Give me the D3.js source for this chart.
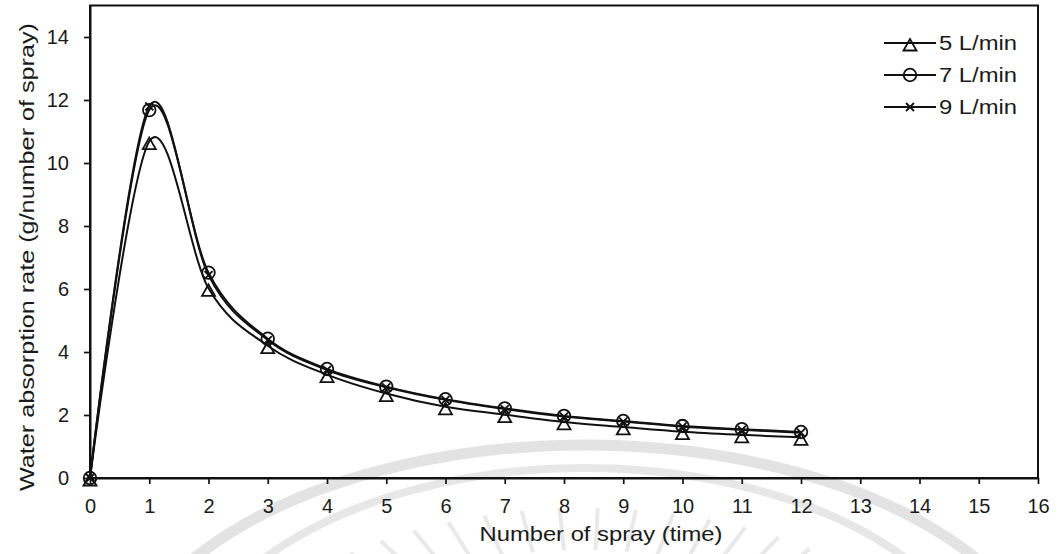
<!DOCTYPE html>
<html>
<head>
<meta charset="utf-8">
<script src="https://cdn.jsdelivr.net/npm/d3@7"></script>
<style>
  body { margin: 0; background: #fff; }
  svg { display: block; }
  text { font-family: "Liberation Sans", Arial, sans-serif; fill: #1a1a1a; }
</style>
</head>
<body>
<svg id="chart" width="1060" height="554"></svg>
<script>
// Spray count (x) and water absorption rate per spray (g) for three flow rates
const sprays = [0, 1, 2, 3, 4, 5, 6, 7, 8, 9, 10, 11, 12];
const rate5 = [0, 10.68, 6.02, 4.2, 3.28, 2.68, 2.26, 2.01, 1.78, 1.62, 1.47, 1.37, 1.29];
const rate7 = [0, 11.68, 6.52, 4.42, 3.46, 2.9, 2.5, 2.21, 1.97, 1.81, 1.65, 1.55, 1.46];
const rate9 = [0, 11.8, 6.44, 4.38, 3.43, 2.88, 2.48, 2.19, 1.95, 1.79, 1.63, 1.53, 1.44];

const seriesNames = ["5 L/min", "7 L/min", "9 L/min"];
const seriesSymbols = ["triangle", "circle", "cross"];

const xTicks = [0, 1, 2, 3, 4, 5, 6, 7, 8, 9, 10, 11, 12, 13, 14, 15, 16];
const yTicks = [0, 2, 4, 6, 8, 10, 12, 14];

const xTitle = "Number of spray (time)";
const yTitle = "Water absorption rate (g/number of spray)";

const svg = d3.select("#chart");
const ink = "#111";

const x = d3.scaleLinear().domain([0, 16]).range([90, 1038]);
const y = d3.scaleLinear().domain([0, 15]).range([478, 5.5]);

// faint emblem in the background
const emblem = svg.append("g").attr("fill", "none");
const ecx = 585, ecy = 700;
function ellipseArc(rx, ry) {
  const pts = d3.range(180, 361, 2).map(a => {
    const t = a * Math.PI / 180;
    return [ecx + rx * Math.cos(t), ecy + ry * Math.sin(t)];
  });
  return d3.line()(pts);
}
emblem.append("path").attr("d", ellipseArc(470, 255))
  .attr("stroke", "#e3e3e3").attr("stroke-width", 11);
emblem.append("path").attr("d", ellipseArc(405, 232))
  .attr("stroke", "#e7e7e7").attr("stroke-width", 8);
d3.range(200, 341, 6).forEach(a => {
  const t = a * Math.PI / 180;
  emblem.append("line")
    .attr("x1", ecx + 300 * Math.cos(t)).attr("y1", ecy + 150 * Math.sin(t))
    .attr("x2", ecx + 365 * Math.cos(t)).attr("y2", ecy + 192 * Math.sin(t))
    .attr("stroke", "#e9e9e9").attr("stroke-width", 4);
});

// plot frame
svg.append("rect")
  .attr("x", x(0)).attr("y", y(15))
  .attr("width", x(16) - x(0)).attr("height", y(0) - y(15))
  .attr("fill", "none").attr("stroke", ink).attr("stroke-width", 2);

// axes
const xAxis = svg.append("g")
  .attr("transform", `translate(0,${y(0)})`)
  .call(d3.axisBottom(x).tickValues(xTicks).tickFormat(d3.format("d"))
    .tickSizeInner(6).tickSizeOuter(0).tickPadding(15));
const yAxis = svg.append("g")
  .attr("transform", `translate(${x(0)},0)`)
  .call(d3.axisLeft(y).tickValues(yTicks).tickFormat(d3.format("d"))
    .tickSizeInner(6).tickSizeOuter(0).tickPadding(15));
[xAxis, yAxis].forEach(g => {
  g.select(".domain").attr("stroke", ink).attr("stroke-width", 2);
  g.selectAll(".tick line").attr("stroke", ink).attr("stroke-width", 1.7);
  g.selectAll(".tick text").attr("font-size", 20).attr("fill", "#1a1a1a")
    .attr("font-family", '"Liberation Sans", Arial, sans-serif');
});

// axis titles
svg.append("text")
  .attr("x", 601).attr("y", 541)
  .attr("text-anchor", "middle").attr("font-size", 21)
  .attr("textLength", 243).attr("lengthAdjust", "spacingAndGlyphs")
  .text(xTitle);
svg.append("text")
  .attr("transform", `translate(34,257) rotate(-90)`)
  .attr("text-anchor", "middle").attr("font-size", 21)
  .attr("textLength", 468).attr("lengthAdjust", "spacingAndGlyphs")
  .text(yTitle);

// marker shapes
function drawMarker(g, kind) {
  if (kind === "triangle") {
    g.append("path").attr("d", "M0,-4L6.5,7.5L-6.5,7.5Z")
      .attr("fill", "none").attr("stroke", ink).attr("stroke-width", 1.8);
  } else if (kind === "circle") {
    g.append("circle").attr("r", 6.3)
      .attr("fill", "none").attr("stroke", ink).attr("stroke-width", 1.8);
  } else {
    g.append("path").attr("d", "M-4,-4L4,4M-4,4L4,-4")
      .attr("fill", "none").attr("stroke", ink).attr("stroke-width", 1.8);
  }
}

// smoothed series lines
const allSeries = [rate5, rate7, rate9];
const line = d3.line()
  .x((d, i) => x(sprays[i]))
  .y(d => y(d))
  .curve(d3.curveCatmullRom.alpha(0));

allSeries.forEach(vals => {
  svg.append("path")
    .attr("d", line(vals))
    .attr("fill", "none").attr("stroke", ink).attr("stroke-width", 2);
});
allSeries.forEach((vals, s) => {
  vals.forEach((v, i) => {
    const g = svg.append("g").attr("transform", `translate(${x(sprays[i])},${y(v)})`);
    drawMarker(g, seriesSymbols[s]);
  });
});

// legend
const legend = svg.append("g");
seriesNames.forEach((name, i) => {
  const ly = 43 + i * 32;
  legend.append("line")
    .attr("x1", 884).attr("x2", 936).attr("y1", ly).attr("y2", ly)
    .attr("stroke", ink).attr("stroke-width", 1.8);
  drawMarker(legend.append("g").attr("transform", `translate(910,${ly})`), seriesSymbols[i]);
  legend.append("text")
    .attr("x", 939).attr("y", ly).attr("dy", "0.36em")
    .attr("font-size", 20)
    .attr("textLength", 78).attr("lengthAdjust", "spacingAndGlyphs")
    .text(name);
});
</script>
</body>
</html>
